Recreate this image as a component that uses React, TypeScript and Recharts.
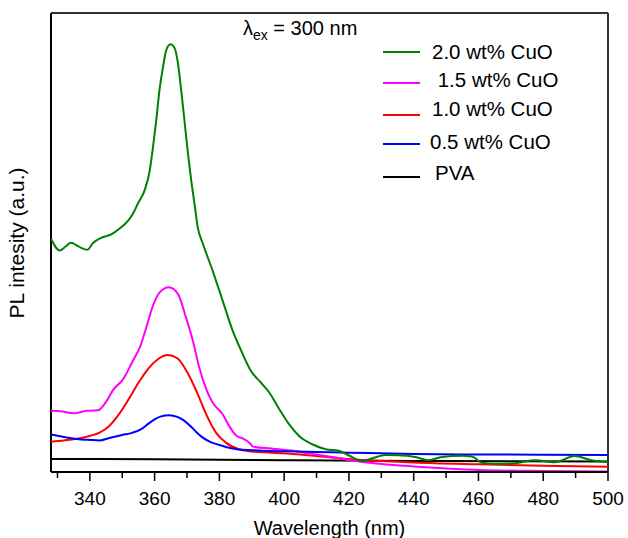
import React from 'react';
import { LineChart, Line, XAxis, YAxis, ReferenceLine } from 'recharts';

const FONT = '"Liberation Sans", Arial, Helvetica, sans-serif';

// Wavelength (nm) and PL intensity (a.u.)
const pvaWl = [328, 360, 400, 440, 500];
const pvaI = [13, 12.8, 11.8, 11, 10.5];

const cuo05Wl = [328, 332, 336, 340, 343, 346, 350, 353, 356, 358, 360, 362, 364.5, 367, 369, 371, 373, 375, 377, 380, 382, 386, 390, 396, 400, 410, 420, 440, 460, 480, 500];
const cuo05I = [37.5, 35, 33, 32, 31.5, 34, 37, 39, 43, 48, 52.5, 55.5, 56.7, 55, 51.5, 46, 39.5, 34, 30.3, 27, 25, 22.5, 21.8, 21, 20.7, 20, 19.3, 18, 17.5, 17.2, 17];

const cuo10Wl = [328, 332, 335, 340, 343, 346, 349, 352, 355, 358, 361, 364, 367, 370, 373, 376, 379, 382, 386, 390, 396, 405, 410, 420, 430, 440, 460, 480, 500];
const cuo10I = [30.3, 31.5, 32.7, 36, 39.3, 46, 57.7, 72.7, 89, 103, 112.5, 116.7, 113.5, 100, 80, 57, 39, 29.3, 22.7, 20.5, 19.3, 17.5, 16, 13, 11, 9.5, 7.7, 6.3, 5.3];

const cuo15Wl = [328, 331, 335, 339, 342.6, 345, 347.2, 350.3, 353.3, 355.4, 357.4, 359.5, 361.5, 364.4, 367.2, 369.7, 371.8, 373.8, 375.9, 377.9, 381, 383, 385, 387.7, 389.7, 390.3, 396.4, 404.6, 410, 415, 420, 430, 440, 450, 460, 480, 500];
const cuo15I = [61, 60.5, 58.7, 61, 61.7, 70, 82, 92.7, 111, 124, 144, 166, 179, 184.3, 177.7, 154, 131, 104, 83, 69.3, 57.7, 46, 37, 32.7, 27.7, 25.3, 23.3, 20.3, 17.5, 15, 12, 8, 5.5, 3.5, 2, 1, 0.5];

const cuo20Wl = [328, 330.7, 332.5, 334.2, 336, 337.3, 339.2, 340.9, 343.5, 346.6, 349.1, 351.7, 353.3, 354.8, 356.9, 358.5, 359.5, 360.5, 361.5, 362.6, 363.6, 364.9, 366.2, 367.2, 368.2, 369.2, 370.3, 371.3, 372.3, 373.3, 374.9, 377.9, 381, 384.1, 387.2, 389.7, 392.8, 395.4, 398.5, 401.5, 404.6, 408.7, 412.8, 416.9, 420, 424.1, 427.2, 431.3, 435.4, 440.5, 444.6, 448.7, 454.9, 458, 461, 465.1, 471.3, 477.4, 483.6, 489.7, 494.9, 500];
const cuo20I = [232.7, 221, 225, 228.7, 226, 223.7, 221.7, 228.3, 233.7, 237, 242.7, 250.3, 257.7, 267.7, 281, 301, 324.3, 351, 381, 404.3, 421, 426.7, 422.7, 407.7, 381, 351, 317.7, 291, 267.7, 244.3, 227.7, 201, 171, 141, 117.7, 101, 89.3, 79.3, 62.7, 47.7, 36, 27.7, 22.7, 21.2, 16.5, 11, 13.7, 17, 16.8, 15, 11.7, 15, 16.3, 15.5, 9.3, 8.3, 8.8, 11.7, 9.7, 16, 11.7, 10];

const xTicks = [330, 340, 350, 360, 370, 380, 390, 400, 410, 420, 430, 440, 450, 460, 470, 480, 490, 500];
const xDomain = [328, 500];
const yDomain = [0, 458];

const legendNames = ['2.0 wt% CuO', ' 1.5 wt% CuO', '1.0 wt% CuO', '0.5 wt% CuO', 'PVA'];
const legendColors = ['#008000', '#ff00ff', '#ff0000', '#0000ff', '#000000'];

const zip = (wl: number[], iv: number[]) => wl.map((w, i) => ({ wl: w, v: iv[i] }));

const drawOrder = [
  { key: 'pva', data: zip(pvaWl, pvaI), color: legendColors[4] },
  { key: 'c10', data: zip(cuo10Wl, cuo10I), color: legendColors[2] },
  { key: 'c15', data: zip(cuo15Wl, cuo15I), color: legendColors[1] },
  { key: 'c05', data: zip(cuo05Wl, cuo05I), color: legendColors[3] },
  { key: 'c20', data: zip(cuo20Wl, cuo20I), color: legendColors[0] },
];

const Tick = (props: any) => {
  const { x, y, payload } = props;
  const v = payload.value;
  const major = v % 20 === 0;
  return (
    <g>
      <line x1={x} x2={x} y1={y} y2={y + (major ? 9 : 6)} stroke="#000" strokeWidth={1.5} />
      {major && (
        <text x={x} y={y + 33} textAnchor="middle" fontSize={19} fontFamily={FONT} fill="#000">
          {v}
        </text>
      )}
    </g>
  );
};

const legendLineY = [52, 83, 115, 144, 177];
const legendTextY = [59, 87, 116, 149, 180];
const legendTextX = [432, 432, 432, 430, 435];

export default function App() {
  return (
    <div style={{ position: 'absolute', left: 0, top: 0, width: 628, height: 538, background: '#fff' }}>
      <LineChart width={628} height={538} margin={{ top: 13, right: 20, bottom: 6, left: 51 }}>
        <XAxis
          dataKey="wl"
          type="number"
          domain={xDomain}
          allowDataOverflow
          ticks={xTicks}
          interval={0}
          tickSize={0}
          tickMargin={0}
          tickLine={false}
          tick={<Tick />}
          height={60}
          axisLine={{ stroke: '#000', strokeWidth: 2 }}
          label={{ value: 'Wavelength (nm)', position: 'insideBottom', offset: -3, fontSize: 20, fontFamily: FONT, fill: '#000' }}
        />
        <YAxis type="number" domain={yDomain} allowDataOverflow hide />
        <ReferenceLine x={328} stroke="#000" strokeWidth={2} />
        <ReferenceLine x={500} stroke="#333" strokeWidth={2} />
        <ReferenceLine y={458} stroke="#333" strokeWidth={2} />
        {drawOrder.map((s) => (
          <Line
            key={s.key}
            data={s.data}
            dataKey="v"
            type="monotone"
            dot={false}
            activeDot={false}
            stroke={s.color}
            strokeWidth={2}
            isAnimationActive={false}
          />
        ))}
      </LineChart>
      <svg width={628} height={538} style={{ position: 'absolute', left: 0, top: 0, pointerEvents: 'none' }}>
        <text
          transform="translate(24,243) rotate(-90)"
          textAnchor="middle"
          fontSize={21}
          fontFamily={FONT}
          fill="#000"
        >
          PL intesity (a.u.)
        </text>
        <text x={243} y={35} fontSize={20} fontFamily={FONT} fill="#000">
          λ<tspan fontSize={14} dy={5}>ex</tspan>
          <tspan dy={-5} fontSize={20}> = 300 nm</tspan>
        </text>
        {legendNames.map((n, i) => (
          <g key={n}>
            <line x1={383} x2={420} y1={legendLineY[i]} y2={legendLineY[i]} stroke={legendColors[i]} strokeWidth={2} />
            <text x={legendTextX[i]} y={legendTextY[i]} fontSize={20.5} fontFamily={FONT} fill="#000" style={{ whiteSpace: 'pre' }}>
              {n}
            </text>
          </g>
        ))}
      </svg>
    </div>
  );
}
